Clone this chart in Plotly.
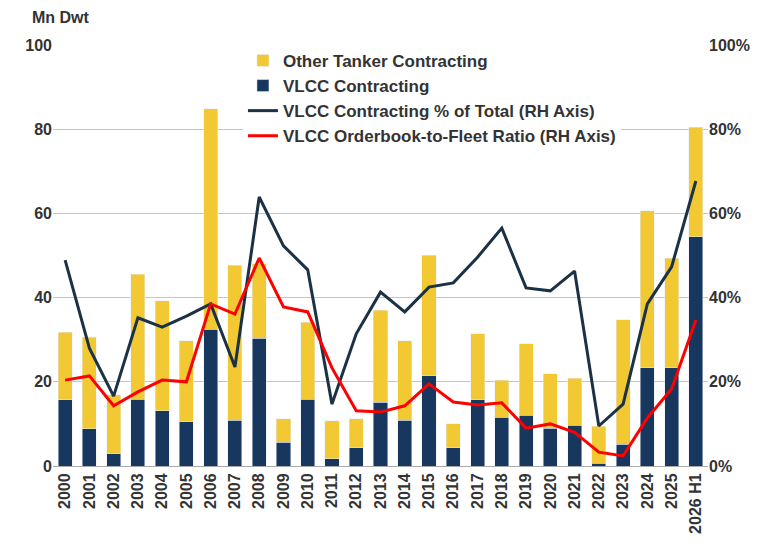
import plotly.graph_objects as go

years = [str(y) for y in range(2000, 2026)] + ["2026 H1"]
total = [31.8, 30.6, 16.9, 45.6, 39.2, 29.7, 84.8, 47.7, 48.0, 11.2, 34.2, 10.7, 11.2, 37.0,
         29.7, 50.1, 10.0, 31.4, 20.4, 29.0, 21.9, 20.9, 9.5, 34.7, 60.6, 49.4, 80.5]
vlcc = [15.7, 8.8, 2.9, 15.9, 13.1, 10.5, 32.5, 10.9, 30.4, 5.7, 15.9, 1.7, 4.3, 15.2,
        10.9, 21.4, 4.3, 15.7, 11.6, 12.1, 9.0, 9.7, 0.7, 5.2, 23.3, 23.3, 54.4]
other = [round(t - v, 1) for t, v in zip(total, vlcc)]
vlcc_share = [48.9, 28.0, 16.6, 35.2, 33.0, 35.6, 38.5, 23.5, 63.9, 52.3, 46.6, 14.7, 31.4, 41.3,
              36.6, 42.5, 43.5, 49.6, 56.5, 42.3, 41.6, 46.3, 9.5, 14.7, 38.5, 47.3, 67.7]
ob_fleet = [20.4, 21.4, 14.3, 17.6, 20.4, 20.0, 38.5, 36.1, 49.4, 37.8, 36.6, 23.3, 13.1, 12.8,
            14.3, 19.5, 15.2, 14.5, 15.0, 9.0, 10.0, 8.0, 3.3, 2.4, 11.4, 18.3, 34.7]

fig = go.Figure()
fig.add_trace(go.Bar(x=years, y=vlcc, name="<b>VLCC Contracting</b>", marker_color="#17375E",
                     legendrank=2))
fig.add_trace(go.Bar(x=years, y=other, name="<b>Other Tanker Contracting</b>", marker_color="#F2C932",
                     legendrank=1))
fig.add_trace(go.Scatter(x=years, y=vlcc_share, name="<b>VLCC Contracting % of Total (RH Axis)</b>",
                         mode="lines", line=dict(color="#1B3146", width=3), yaxis="y2", legendrank=3))
fig.add_trace(go.Scatter(x=years, y=ob_fleet, name="<b>VLCC Orderbook-to-Fleet Ratio (RH Axis)</b>",
                         mode="lines", line=dict(color="#FF0000", width=3), yaxis="y2", legendrank=4))

fig.update_layout(
    width=764, height=550, barmode="stack", bargap=0.42,
    plot_bgcolor="white", paper_bgcolor="white",
    margin=dict(l=45, r=64, t=37, b=92, autoexpand=False),
    font=dict(family="Liberation Sans, Arial", size=16, color="#333333"),
    xaxis=dict(tickangle=-90, tickfont=dict(size=16), showgrid=False,
               tickprefix="<b>", ticksuffix="</b>", showline=True, linecolor="#aaaaaa"),
    yaxis=dict(range=[0, 100], dtick=20, showgrid=True, gridcolor="#9DD3E0", gridwidth=1,
               zeroline=False, tickprefix="<b>", ticksuffix="</b>", layer="below traces"),
    yaxis2=dict(range=[0, 100], dtick=20, overlaying="y", side="right",
                tickprefix="<b>", ticksuffix="%</b>", showgrid=False, zeroline=False),
    legend=dict(x=0.29, y=1.005, xanchor="left", yanchor="top", traceorder="normal",
                bgcolor="white", font=dict(size=17, color="#333333"),
                tracegroupgap=0, itemwidth=30),
    annotations=[dict(text="<b>Mn Dwt</b>", xref="paper", yref="paper", x=-0.035, y=1.04,
                      xanchor="left", yanchor="bottom", showarrow=False, font=dict(size=16))],
)
fig.write_html("out.html")
